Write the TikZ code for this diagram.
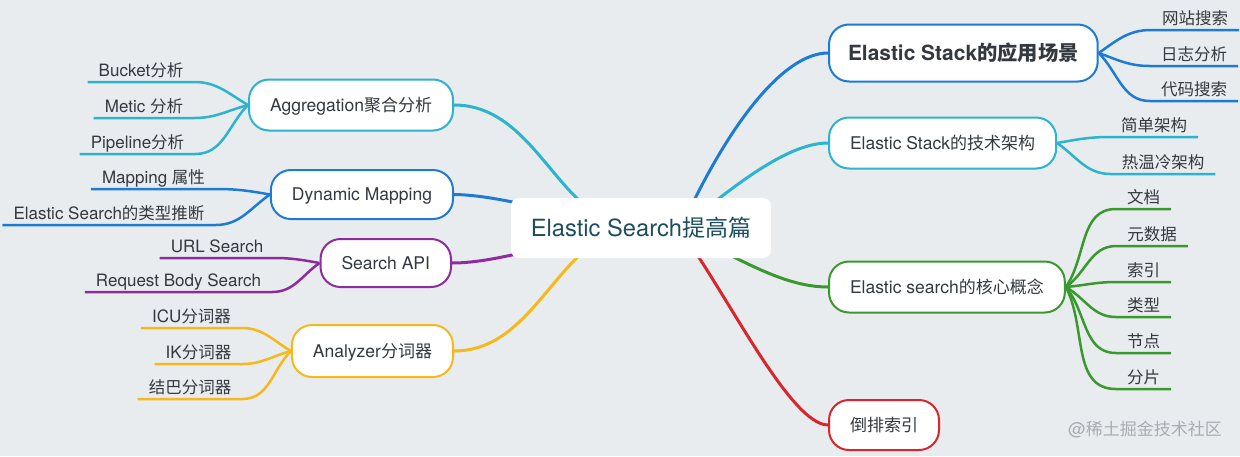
\documentclass[tikz,border=0pt]{standalone}
\usepackage{fontspec}
\setmainfont{TeX Gyre Heros}[Scale=1.03]
\newfontfamily\cjk{Noto Sans CJK SC}
\definecolor{cblue}{HTML}{1D7BD3}
\definecolor{ccyan}{HTML}{2CB3CD}
\definecolor{cgreen}{HTML}{3A992E}
\definecolor{cred}{HTML}{D8262C}
\definecolor{cpurple}{HTML}{8E2C9F}
\definecolor{cyellow}{HTML}{F7B81C}
\definecolor{bgc}{HTML}{E9ECEF}
\definecolor{txt}{HTML}{33393F}
\definecolor{ctxt}{HTML}{1D4E5E}
\definecolor{wm}{HTML}{A8ADB2}
\pgfdeclarelayer{bg}
\pgfsetlayers{bg,main}
\begin{document}
\begin{tikzpicture}[x=1pt,y=1pt,
  centre/.style={fill=white, rounded corners=8pt, minimum width=260pt, minimum height=60pt,
    inner sep=0pt, text height=18.4pt, text depth=1.4pt, font=\fontsize{23}{26}\selectfont, text=ctxt},
  topic/.style={draw=#1, line width=2pt, fill=white, rounded corners=20pt, inner xsep=21pt,
    inner ysep=0pt, minimum height=51pt, text height=13.6pt, text depth=1pt,
    font=\fontsize{17}{20}\selectfont, text=txt},
  leaf/.style={inner xsep=11pt, inner ysep=5pt, text height=13pt, text depth=0pt,
    font=\fontsize{16.5}{19}\selectfont, text=txt, anchor=south},
  mconn/.style={line width=3pt, draw=#1},
  lconn/.style={line width=2.5pt, draw=#1}]
\useasboundingbox (0,0) rectangle (1240,-456);
\begin{pgfonlayer}{bg}
\fill[bgc] (0,0) rectangle (1240,-456);
\end{pgfonlayer}

% centre
\node[centre] (c) at (641,-228) {Elastic Search\cjk 提高篇};
\coordinate (hub) at (680,-230);

% main topics right
\node[topic=cblue, anchor=west, minimum height=57pt, inner xsep=19pt, text height=16.4pt, text depth=1.2pt,
  font=\fontsize{20.3}{23}\selectfont\bfseries] (n1) at (828,-53) {Elastic Stack\cjk 的应用场景};
\node[topic=ccyan, anchor=west] (n2) at (828,-143) {Elastic Stack\cjk 的技术架构};
\node[topic=cgreen, anchor=west] (n3) at (828,-287) {Elastic search\cjk 的核心概念};
\node[topic=cred, anchor=west, minimum height=50pt] (n4) at (828,-425) {\cjk 倒排索引};

% main topics left
\node[topic=ccyan, anchor=east] (agg) at (454,-105) {Aggregation\cjk 聚合分析};
\node[topic=cblue, anchor=east, minimum height=49pt] (dyn) at (454,-194.5) {Dynamic Mapping};
\node[topic=cpurple, anchor=east, minimum height=48pt] (api) at (452,-263) {Search API};
\node[topic=cyellow, anchor=east, minimum height=52pt] (ana) at (454,-351) {Analyzer\cjk 分词器};

% leaves right
\node[leaf] (l11) at (1195,-30) {\cjk 网站搜索};
\node[leaf] (l12) at (1194,-66) {\cjk 日志分析};
\node[leaf] (l13) at (1194,-101) {\cjk 代码搜索};
\node[leaf] (l21) at (1154,-137) {\cjk 简单架构};
\node[leaf] (l22) at (1163,-174) {\cjk 热温冷架构};
\node[leaf] (l31) at (1143.5,-209) {\cjk 文档};
\node[leaf] (l32) at (1152,-246) {\cjk 元数据};
\node[leaf] (l33) at (1143.5,-282) {\cjk 索引};
\node[leaf] (l34) at (1143.5,-317) {\cjk 类型};
\node[leaf] (l35) at (1143.5,-353) {\cjk 节点};
\node[leaf] (l36) at (1143.5,-389) {\cjk 分片};

% leaves left
\node[leaf] (a1) at (141,-82) {Bucket\cjk 分析};
\node[leaf] (a2) at (144,-118) {Metic \cjk 分析};
\node[leaf] (a3) at (137.5,-154) {Pipeline\cjk 分析};
\node[leaf] (d1) at (153.5,-189) {Mapping \cjk 属性};
\node[leaf] (d2) at (109,-225) {Elastic Search\cjk 的类型推断};
\node[leaf] (s1) at (217,-258) {URL Search};
\node[leaf] (s2) at (178.5,-292) {Request Body Search};
\node[leaf] (z1) at (191.5,-328) {ICU\cjk 分词器};
\node[leaf] (z2) at (198.5,-364) {IK\cjk 分词器};
\node[leaf] (z3) at (190,-399) {\cjk 结巴分词器};

% watermark
\node[font=\fontsize{17}{20}\selectfont, text=wm] (wmk) at (1145,-430) {@\cjk 稀土掘金技术社区};

\begin{pgfonlayer}{bg}
% main connectors
\draw[mconn=ccyan] (agg.east) .. controls (540,-105) and (560,-230) .. (c.center);
\draw[mconn=cblue] (dyn.east) .. controls (500,-195) and (560,-215) .. (c.center);
\draw[mconn=cpurple] (api.east) .. controls (500,-263) and (560,-240) .. (c.center);
\draw[mconn=cyellow] (ana.east) .. controls (540,-351) and (560,-226) .. (c.center);
\draw[mconn=cblue] (n1.west) .. controls (785,-53) and (730,-120) .. (hub);
\draw[mconn=ccyan] (n2.west) .. controls (790,-143) and (740,-180) .. (hub);
\draw[mconn=cgreen] (n3.west) .. controls (785,-287) and (745,-262) .. (hub);
\draw[mconn=cred] (n4.west) .. controls (790,-425) and (725,-290) .. (hub);

% leaf connectors right
\draw[lconn=cblue] (n1.east) to[out=35,in=180] (l11.south west) -- (l11.south east);
\draw[lconn=cblue] (n1.east) to[out=-20,in=180] (l12.south west) -- (l12.south east);
\draw[lconn=cblue] (n1.east) to[out=-45,in=180] (l13.south west) -- (l13.south east);
\draw[lconn=ccyan] (n2.east) to[out=10,in=180] (l21.south west) -- (l21.south east);
\draw[lconn=ccyan] (n2.east) to[out=-35,in=180] (l22.south west) -- (l22.south east);
\draw[lconn=cgreen] (n3.east) to[out=55,in=180] (l31.south west) -- (l31.south east);
\draw[lconn=cgreen] (n3.east) to[out=35,in=180] (l32.south west) -- (l32.south east);
\draw[lconn=cgreen] (n3.east) to[out=5,in=180] (l33.south west) -- (l33.south east);
\draw[lconn=cgreen] (n3.east) to[out=-30,in=180] (l34.south west) -- (l34.south east);
\draw[lconn=cgreen] (n3.east) to[out=-50,in=180] (l35.south west) -- (l35.south east);
\draw[lconn=cgreen] (n3.east) to[out=-62,in=180] (l36.south west) -- (l36.south east);

% leaf connectors left
\draw[lconn=ccyan] (agg.west) to[out=150,in=0] (a1.south east) -- (a1.south west);
\draw[lconn=ccyan] (agg.west) to[out=195,in=0] (a2.south east) -- (a2.south west);
\draw[lconn=ccyan] (agg.west) to[out=225,in=0] (a3.south east) -- (a3.south west);
\draw[lconn=cblue] (dyn.west) to[out=170,in=0] (d1.south east) -- (d1.south west);
\draw[lconn=cblue] (dyn.west) to[out=215,in=0] (d2.south east) -- (d2.south west);
\draw[lconn=cpurple] (api.west) to[out=170,in=0] (s1.south east) -- (s1.south west);
\draw[lconn=cpurple] (api.west) to[out=215,in=0] (s2.south east) -- (s2.south west);
\draw[lconn=cyellow] (ana.west) to[out=150,in=0] (z1.south east) -- (z1.south west);
\draw[lconn=cyellow] (ana.west) to[out=195,in=0] (z2.south east) -- (z2.south west);
\draw[lconn=cyellow] (ana.west) to[out=225,in=0] (z3.south east) -- (z3.south west);
\end{pgfonlayer}
\end{tikzpicture}
\end{document}
